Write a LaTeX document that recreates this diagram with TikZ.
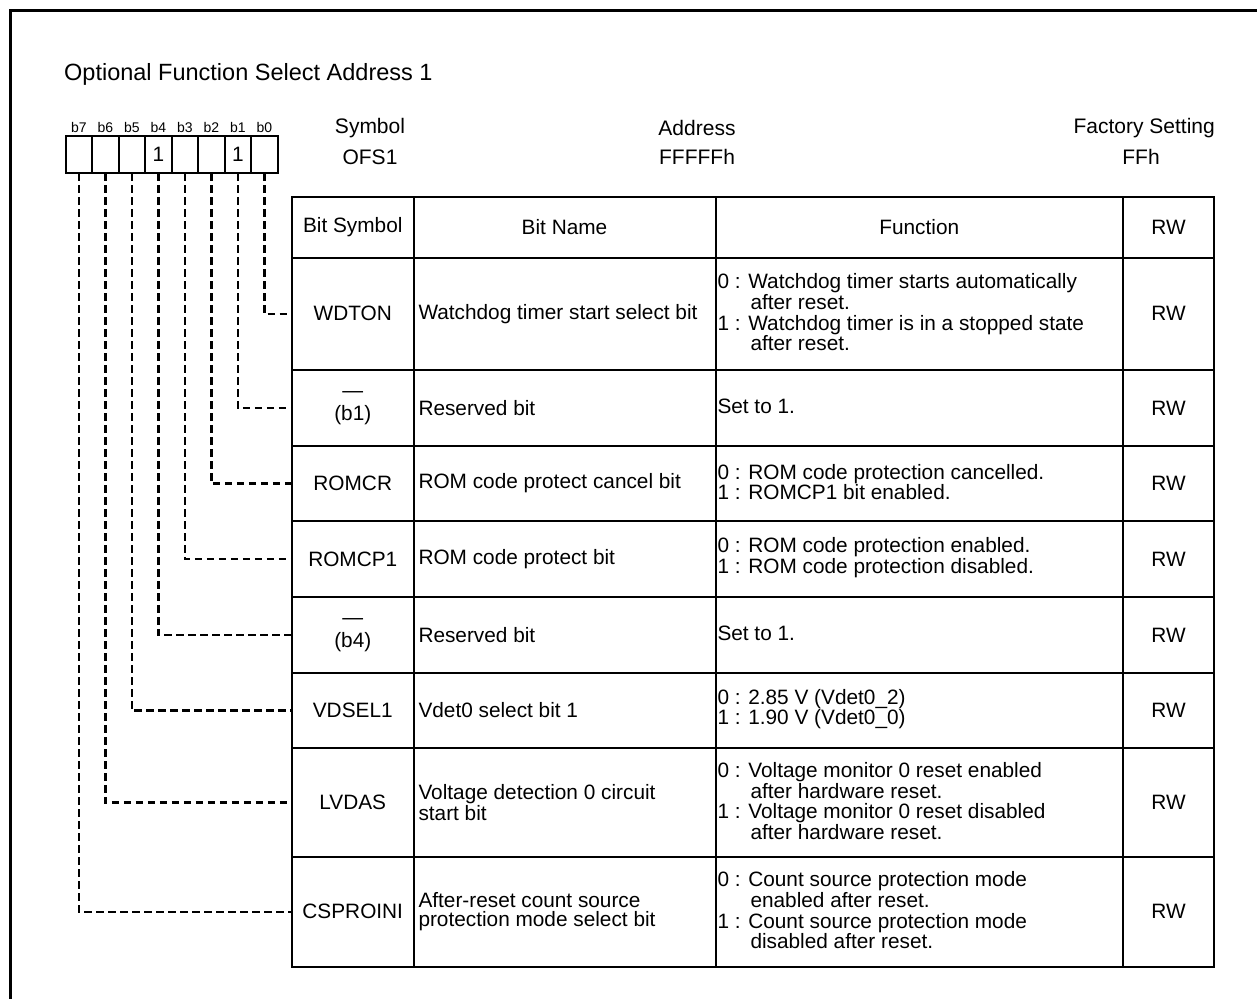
\documentclass[tikz,border=0pt]{standalone}
\usepackage{fontspec}
\setmainfont{Liberation Sans}
\newcommand\ind{\hspace*{33pt}}
\newcommand\regrow[7]{%
 \node[cellb,minimum width=121.5,minimum height=#3,anchor=north west] (s#1) at (292,#2) {};
 \node[cellb,minimum width=302,minimum height=#3,anchor=north west] (n#1) at (413.5,#2) {};
 \node[cellb,minimum width=407.5,minimum height=#3,anchor=north west] (f#1) at (715.5,#2) {};
 \node[cellb,minimum width=91,minimum height=#3,anchor=north west] (w#1) at (1123,#2) {};
 \node[ctxt] (st#1) at (s#1.center) {#4};
 \node[txt,anchor=west] (nt#1) at ([xshift=5pt]n#1.west) {#5};
 \node[txt,anchor=west] (ft#1) at ([xshift=2pt,yshift=1.5pt]f#1.west) {#6};
 \node[ctxt] (wt#1) at (w#1.center) {#7};
}
\begin{document}
\begin{tikzpicture}[x=1pt,y=-1pt,
  cellb/.style={draw,line width=2pt,inner sep=0,outer sep=0},
  txt/.style={inner sep=0,outer sep=0,font=\fontsize{20.8}{18.8}\selectfont,align=left},
  ctxt/.style={txt,align=center},
  bitb/.style={draw,line width=2pt,inner sep=0,outer sep=0,minimum width=26.5,minimum height=37,font=\fontsize{20.8}{20}\selectfont},
  bitl/.style={inner sep=0,font=\fontsize{14}{14}\selectfont},
  hdr/.style={inner sep=0,font=\fontsize{21}{21}\selectfont},
  conn/.style={line width=2.4pt,dash pattern=on 7.5pt off 4.5pt}]
\useasboundingbox (0,0) rectangle (1257,998);
\fill[white] (0,0) rectangle (1257,998);
\draw[line width=3pt] (10,1010) -- (10,11) -- (1270,11);

\node[inner sep=0,anchor=base west,font=\fontsize{23.5}{26}\selectfont] (title) at (64,81) {Optional Function Select Address 1};

% bit boxes
\foreach \i/\v in {7/,6/,5/,4/1,3/,2/,1/1,0/} {
  \node[bitb,anchor=north west] (bit\i) at ({65.7+(7-\i)*26.5},136) {\v};
  \node[bitl] (lbl\i) at ({65.7+(7-\i)*26.5+13.25},127) {b\i};
}

% header texts
\node[hdr] (symh) at (370,128) {Symbol};
\node[hdr] (symv) at (370,157) {OFS1};
\node[hdr] (addh) at (697,128) {Address};
\node[hdr] (addv) at (697,157) {FFFFFh};
\node[hdr,anchor=east] (fach) at (1215,128) {Factory Setting};
\node[hdr] (facv) at (1141,157) {FFh};

% table header
\node[cellb,minimum width=121.5,minimum height=60.5,anchor=north west] (hs) at (292,197) {};
\node[cellb,minimum width=302,minimum height=60.5,anchor=north west] (hn) at (413.5,197) {};
\node[cellb,minimum width=407.5,minimum height=60.5,anchor=north west] (hf) at (715.5,197) {};
\node[cellb,minimum width=91,minimum height=60.5,anchor=north west] (hw) at (1123,197) {};
\node[ctxt] (hst) at (hs.center) {Bit Symbol};
\node[ctxt] (hnt) at (hn.center) {Bit Name};
\node[ctxt] (hft) at (hf.center) {Function};
\node[ctxt] (hwt) at (hw.center) {RW};

\regrow{0}{257.5}{112.5}{WDTON}{Watchdog timer start select bit}{0 : Watchdog timer starts automatically\\\ind after reset.\\[2pt]1 : Watchdog timer is in a stopped state\\\ind after reset.}{RW}
\regrow{1}{370}{76}{—\\[4pt](b1)}{Reserved bit}{Set to 1.}{RW}
\regrow{2}{446}{75}{ROMCR}{ROM code protect cancel bit}{0 : ROM code protection cancelled.\\1 : ROMCP1 bit enabled.}{RW}
\regrow{3}{521}{76}{ROMCP1}{ROM code protect bit}{0 : ROM code protection enabled.\\1 : ROM code protection disabled.}{RW}
\regrow{4}{597}{76}{—\\[4pt](b4)}{Reserved bit}{Set to 1.}{RW}
\regrow{5}{673}{75}{VDSEL1}{Vdet0 select bit 1}{0 : 2.85 V (Vdet0\_2)\\1 : 1.90 V (Vdet0\_0)}{RW}
\regrow{6}{748}{109}{LVDAS}{Voltage detection 0 circuit\\start bit}{0 : Voltage monitor 0 reset enabled\\\ind after hardware reset.\\[2pt]1 : Voltage monitor 0 reset disabled\\\ind after hardware reset.}{RW}
\regrow{7}{857}{109.5}{CSPROINI}{After-reset count source\\protection mode select bit}{0 : Count source protection mode\\\ind enabled after reset.\\[2pt]1 : Count source protection mode\\\ind disabled after reset.}{RW}

% connectors
\foreach \i in {0,...,7} {
  \draw[conn] (bit\i.south) |- (s\i.west);
}
\end{tikzpicture}
\end{document}
